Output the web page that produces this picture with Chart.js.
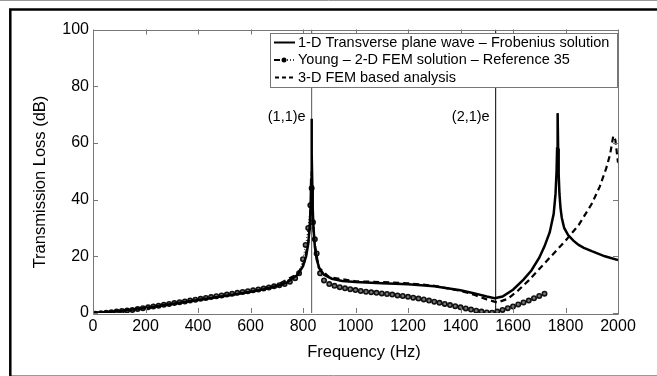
<!DOCTYPE html>
<html>
<head>
<meta charset="utf-8">
<script src="https://cdn.jsdelivr.net/npm/chart.js@4.4.0/dist/chart.umd.min.js"></script>
<style>
  html, body { margin: 0; padding: 0; background: #fff; }
  #wrap { width: 657px; height: 376px; position: relative; }
</style>
</head>
<body>
<div id="wrap"><canvas id="tl"></canvas></div>
<script>
// 1-D transverse plane wave (Frobenius solution)
const solidFreq = [0, 50, 100, 150, 200, 250, 300, 350, 400, 450, 500, 550, 600, 650, 700, 740, 780, 800, 812, 820, 826, 829, 831, 832.5, 833,
  834, 835.5, 837, 840, 845, 852, 862, 880, 910, 950, 1000, 1100, 1200, 1300, 1400, 1450, 1500, 1530, 1560, 1600, 1640, 1670, 1700,
  1720, 1740, 1755, 1762, 1766, 1768, 1770, 1772, 1774, 1777, 1781, 1786, 1795, 1810, 1830, 1850, 1870, 1900, 1950, 2000];
const solidTL = [0, 0.3, 0.7, 1.2, 1.8, 2.5, 3.2, 3.9, 4.6, 5.3, 6.0, 6.7, 7.5, 8.4, 9.5, 10.8, 13.5, 16.5, 20, 24.5, 31, 38, 47, 58, 68.5,
  56, 45, 37, 30, 23.5, 19, 15.8, 13.5, 12.1, 11.3, 10.9, 10.5, 10.1, 9.4, 8.0, 7.0, 5.8, 5.2, 5.8, 8.2, 11.8, 15, 19.5,
  23.5, 28.5, 35, 42, 50, 58, 70.5, 58, 49, 42, 37, 33.5, 30, 27.5, 25.5, 24, 23, 21.8, 20, 18.7];

// 3-D FEM based analysis
const femFreq = [0, 100, 200, 300, 400, 500, 600, 700, 780, 805, 820, 828, 831, 833, 835, 838, 845, 860, 900, 1000, 1100, 1200, 1300, 1400,
  1450, 1500, 1540, 1580, 1620, 1660, 1700, 1750, 1800, 1850, 1900, 1930, 1955, 1970, 1982, 1990, 2000];
const femTL = [0, 0.7, 1.9, 3.3, 4.8, 6.2, 7.7, 9.8, 13.8, 18, 25, 33, 40, 50, 40, 32, 24, 16, 12.6, 11.2, 10.9, 10.5, 9.6, 7.8,
  6.5, 4.8, 3.7, 5, 8, 11.5, 15.5, 20.5, 25.5, 31, 38.5, 44.5, 51, 56, 62.5, 61, 53];

// Young - 2-D FEM solution - Reference 35
const youngFreq = [10, 30, 50, 70, 90, 110, 130, 150, 170, 190, 210, 230, 250, 270, 290, 310, 330, 350, 370, 390, 410, 430, 450, 470, 490,
  510, 530, 550, 570, 590, 610, 630, 650, 670, 690, 710, 730, 750, 770, 785, 800, 810, 820, 828, 833, 838, 845, 852, 865, 880,
  900, 920, 940, 960, 980, 1000, 1020, 1040, 1060, 1080, 1100, 1120, 1140, 1160, 1180, 1200, 1220, 1240, 1260, 1280, 1300,
  1320, 1340, 1360, 1380, 1400, 1420, 1440, 1460, 1480, 1500, 1520, 1540, 1560, 1580, 1600, 1620, 1640, 1660, 1680, 1700, 1720];
const youngTL = [-0.3, -0.1, 0.1, 0.3, 0.5, 0.7, 0.9, 1.1, 1.4, 1.7, 2.0, 2.3, 2.6, 2.9, 3.2, 3.5, 3.8, 4.1, 4.4, 4.7, 5.0, 5.3, 5.6, 5.9, 6.2,
  6.5, 6.8, 7.1, 7.4, 7.7, 8.0, 8.3, 8.6, 9.0, 9.4, 9.8, 10.2, 11.0, 12.3, 14.0, 19, 24, 30, 38, 44, 32, 26, 21, 14, 11.5,
  10.2, 9.6, 9.1, 8.7, 8.4, 8.1, 7.8, 7.5, 7.3, 7.1, 6.9, 6.7, 6.5, 6.2, 6.0, 5.7, 5.4, 5.1, 4.8, 4.4, 4.0,
  3.6, 3.2, 2.8, 2.4, 2.0, 1.6, 1.2, 0.8, 0.5, 0.2, 0.1, 0.5, 1.1, 1.7, 2.3, 3.0, 3.7, 4.4, 5.2, 6.0, 6.8];

// eigenmode markers
const modeFreq = [833, 1534];
const modeLabels = ['(1,1)e', '(2,1)e'];
const modeColors = ['#555', '#000'];

const legendLabels = [
  '1-D Transverse plane wave \u2013 Frobenius solution',
  'Young \u2013 2-D FEM solution \u2013 Reference 35',
  '3-D FEM based analysis'
];

const FONT = 'Arial, "Liberation Sans", sans-serif';
const pairs = (xs, ys) => xs.map((x, i) => ({ x, y: ys[i] }));

const modeSets = modeFreq.map((f, i) => ({
  data: [{ x: f, y: 0 }, { x: f, y: 100 }],
  borderColor: modeColors[i],
  borderWidth: 1,
  pointRadius: 0,
  order: 5
}));

const decor = {
  id: 'decor',
  beforeDraw(chart) {
    const c = chart.ctx;
    c.save();
    c.fillStyle = '#fff';
    c.fillRect(0, 0, chart.width, chart.height);
    c.strokeStyle = '#999';
    c.lineWidth = 1;
    c.beginPath();
    c.moveTo(0, 0.5); c.lineTo(chart.width, 0.5);
    c.moveTo(10, 375.5); c.lineTo(chart.width, 375.5);
    c.stroke();
    c.strokeStyle = '#000';
    c.lineWidth = 2.5;
    c.beginPath();
    c.moveTo(10.3, chart.height); c.lineTo(10.3, 9.5); c.lineTo(chart.width, 9.5);
    c.stroke();
    c.restore();
  },
  afterDatasetsDraw(chart) {
    const c = chart.ctx;
    const a = chart.chartArea;
    const xs = chart.scales.x, ys = chart.scales.y;
    c.save();
    // box and inward ticks
    c.strokeStyle = '#777';
    c.lineWidth = 1;
    c.beginPath();
    c.rect(Math.round(a.left) + 0.5, Math.round(a.top) + 0.5, Math.round(a.right - a.left), Math.round(a.bottom - a.top));
    xs.ticks.forEach(t => {
      const px = Math.round(xs.getPixelForValue(t.value)) + 0.5;
      c.moveTo(px, a.bottom); c.lineTo(px, a.bottom - 5);
      c.moveTo(px, a.top); c.lineTo(px, a.top + 5);
    });
    ys.ticks.forEach(t => {
      const py = Math.round(ys.getPixelForValue(t.value)) + 0.5;
      c.moveTo(a.left, py); c.lineTo(a.left + 5, py);
      c.moveTo(a.right, py); c.lineTo(a.right - 5, py);
    });
    c.stroke();

    // mode labels
    c.fillStyle = '#000';
    c.font = '14.5px ' + FONT;
    c.textAlign = 'right';
    c.textBaseline = 'middle';
    modeFreq.forEach((f, i) => {
      c.fillText(modeLabels[i], xs.getPixelForValue(f) - 6, ys.getPixelForValue(69));
    });

    // legend
    const lx = 270.5, ly = 33.5, lw = 347, lh = 54;
    c.fillStyle = '#fff';
    c.fillRect(lx, ly, lw, lh);
    c.strokeStyle = '#777';
    c.lineWidth = 1;
    c.strokeRect(lx, ly, lw, lh);
    const rows = [42.5, 60, 77.5];
    c.strokeStyle = '#000';
    c.lineWidth = 2;
    // solid
    c.beginPath(); c.moveTo(274, rows[0]); c.lineTo(295, rows[0]); c.stroke();
    // young: dash, marker, dots
    c.beginPath(); c.moveTo(274, rows[1]); c.lineTo(280, rows[1]); c.stroke();
    c.lineWidth = 1.5;
    c.setLineDash([1, 2]);
    c.beginPath(); c.moveTo(287, rows[1]); c.lineTo(296, rows[1]); c.stroke();
    c.setLineDash([]);
    c.fillStyle = '#000';
    c.beginPath(); c.arc(284, rows[1], 2.5, 0, Math.PI * 2); c.fill();
    // dashed
    c.lineWidth = 2;
    c.setLineDash([4, 3]);
    c.beginPath(); c.moveTo(275, rows[2]); c.lineTo(296, rows[2]); c.stroke();
    c.setLineDash([]);
    c.fillStyle = '#000';
    c.textAlign = 'left';
    legendLabels.forEach((s, i) => c.fillText(s, 298, rows[i]));

    // axis titles
    c.font = '16.5px ' + FONT;
    c.textAlign = 'center';
    c.fillText('Frequency (Hz)', 364, 352);
    c.translate(40, 182);
    c.rotate(-Math.PI / 2);
    c.fillText('Transmission Loss (dB)', 0, 0);
    c.restore();
  }
};

new Chart(document.getElementById('tl'), {
  type: 'line',
  data: {
    datasets: [
      {
        label: legendLabels[0],
        data: pairs(solidFreq, solidTL),
        borderColor: '#000',
        borderWidth: 2.5,
        pointRadius: 0,
        tension: 0,
        order: 1
      },
      {
        label: legendLabels[1],
        data: pairs(youngFreq, youngTL),
        borderColor: '#000',
        borderWidth: 1,
        borderDash: [1, 2],
        pointRadius: 2.2,
        pointBorderWidth: 1.6,
        pointBackgroundColor: '#777',
        pointBorderColor: '#111',
        tension: 0,
        order: 2
      },
      {
        label: legendLabels[2],
        data: pairs(femFreq, femTL),
        borderColor: '#000',
        borderWidth: 2.2,
        borderDash: [6, 4],
        pointRadius: 0,
        tension: 0,
        order: 3
      },
      ...modeSets
    ]
  },
  options: {
    responsive: true,
    maintainAspectRatio: false,
    animation: false,
    events: [],
    layout: { padding: { left: 0, top: 29.5, right: 39, bottom: 0 } },
    plugins: {
      legend: { display: false },
      tooltip: { enabled: false }
    },
    scales: {
      x: {
        type: 'linear',
        min: 0,
        max: 2000,
        afterFit: s => { s.height = 63; },
        grid: { display: false, drawTicks: false },
        border: { display: false },
        ticks: { stepSize: 200, padding: 4, color: '#000', font: { family: FONT, size: 16 }, maxRotation: 0, callback: v => String(v) }
      },
      y: {
        type: 'linear',
        min: 0,
        max: 100,
        afterFit: s => { s.width = 93; },
        grid: { display: false, drawTicks: false },
        border: { display: false },
        ticks: { stepSize: 20, padding: 4, color: '#000', font: { family: FONT, size: 16 } }
      }
    }
  },
  plugins: [decor]
});
</script>
</body>
</html>
